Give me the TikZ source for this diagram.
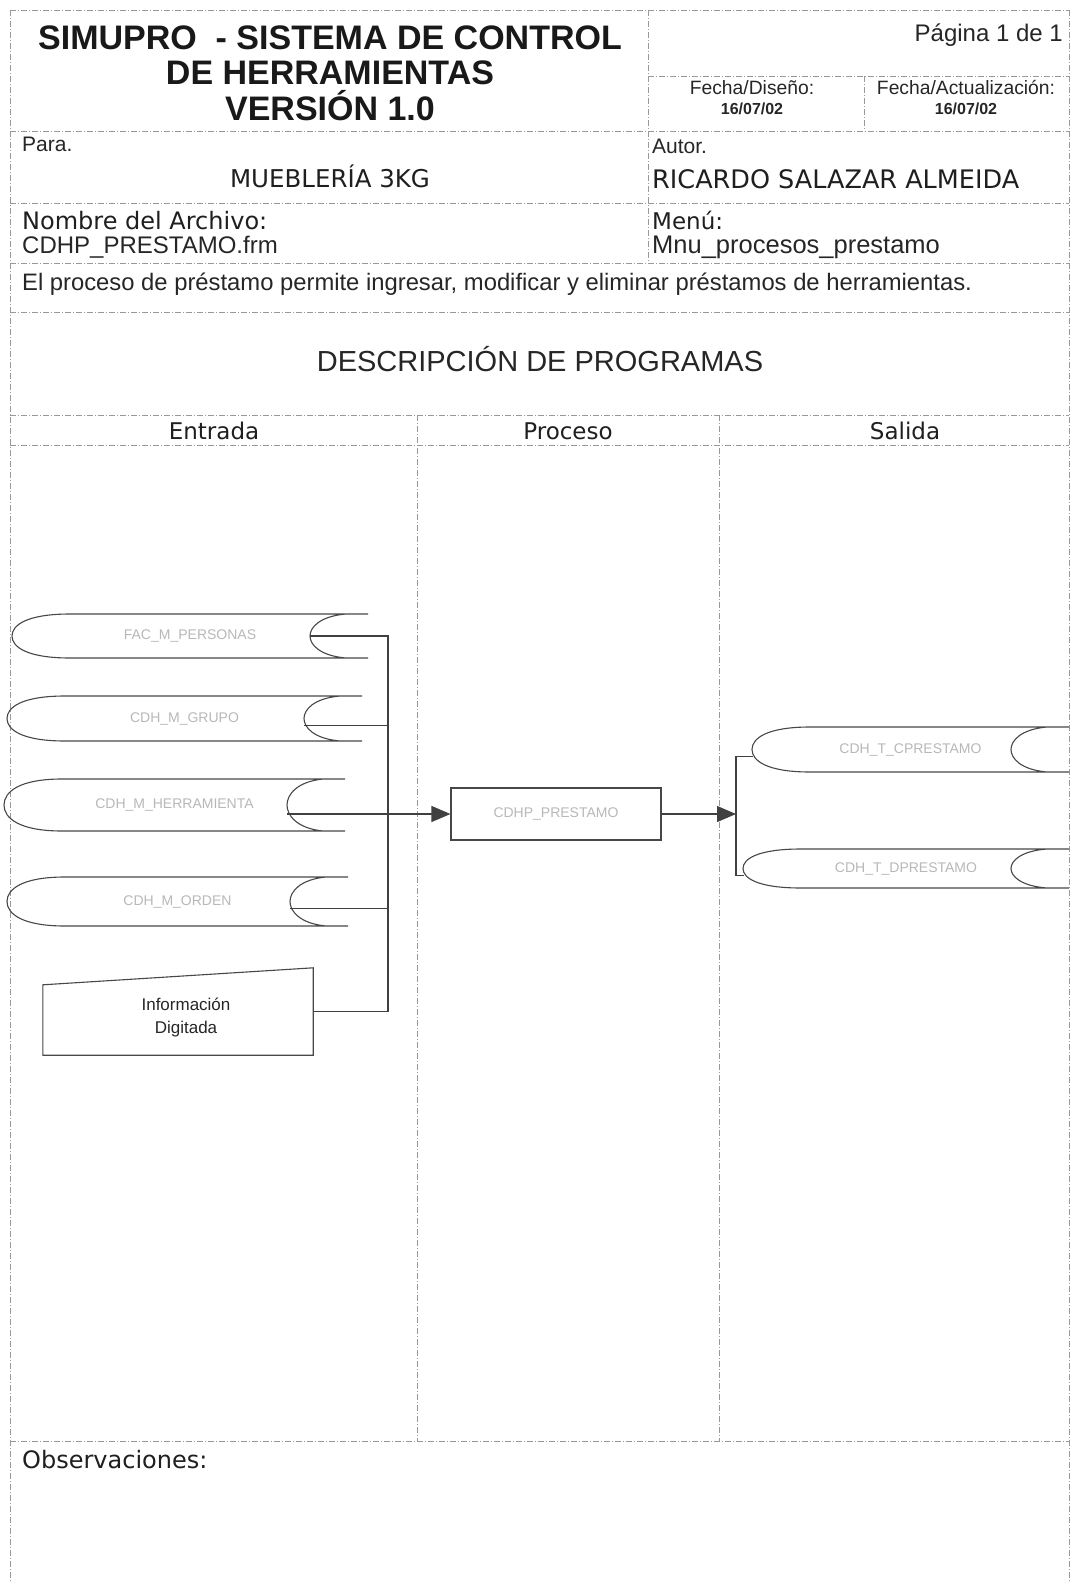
\documentclass[tikz,border=0pt]{standalone}
\usepackage{fontspec}
\setmainfont{Liberation Sans}
\newfontfamily\verd{DejaVu Sans}
\usetikzlibrary{arrows.meta}

% stored-data symbol: name, x of left tip, x of right end, y top, y bottom, label
\newcommand\storebox[6]{%
  \draw[outline] ({#2+58},#4) -- (#3,#4)
    ({#2+58},#5) -- (#3,#5)
    ({#2+58},#4) .. controls ({#2+15},#4) and (#2,{#4+0.25*(#5-#4)}) .. (#2,{(#4+#5)/2})
      .. controls (#2,{#5-0.25*(#5-#4)}) and ({#2+15},#5) .. ({#2+58},#5)
    ({#3-22},#4) .. controls ({#3-48},{#4+0.05*(#5-#4)}) and ({#3-58},{#4+0.3*(#5-#4)}) .. ({#3-58},{(#4+#5)/2})
      .. controls ({#3-58},{#5-0.3*(#5-#4)}) and ({#3-48},{#5-0.05*(#5-#4)}) .. ({#3-22},#5);
  \node[faint] (#1) at ({(#2+#3)/2},{(#4+#5)/2}) {#6};
  \coordinate (#1-in) at ({#3-58},{(#4+#5)/2});
  \coordinate (#1-tip) at (#2,{(#4+#5)/2});
}

\begin{document}
\begin{tikzpicture}[x=1pt,y=-1pt,
  frame/.style={draw=black!40, line width=0.7pt, dash pattern=on 6pt off 2pt on 1pt off 2pt},
  outline/.style={draw=black!72, line width=1.1pt},
  wire/.style={draw=black!75, line width=1.1pt},
  tip/.style={-{Triangle[length=19pt,width=16pt]}},
  faint/.style={text=black!28, inner sep=0, font=\fontsize{14}{14}\selectfont},
  txt/.style={text=black!85, inner sep=0, anchor=base west, font=\fontsize{24}{24}\selectfont},
  vtxt/.style={text=black!88, inner sep=0, anchor=base west, font=\verd\fontsize{24}{24}\selectfont},
  ttl/.style={text=black!90, inner sep=0, anchor=base, font=\fontsize{34}{34}\selectfont\bfseries},
  small/.style={text=black!85, inner sep=0, anchor=base, font=\fontsize{19.3}{19.3}\selectfont},
  date/.style={text=black!85, inner sep=0, anchor=base, font=\fontsize{16}{16}\selectfont\bfseries},
  head/.style={text=black!88, inner sep=0, anchor=base, font=\verd\fontsize{23}{23}\selectfont}
]
\useasboundingbox (0,0) rectangle (1071,1581);
\fill[white] (0,0) rectangle (1071,1581);

% form frame
\draw[frame] (10,10) -- (1069,10);
\draw[frame] (10,10) -- (10,1581);
\draw[frame] (1069,10) -- (1069,1581);
\draw[frame] (648,10) -- (648,263);
\draw[frame] (648,76) -- (1069,76);
\draw[frame] (864,76) -- (864,131);
\foreach \yy in {131,203,263,312,415,445,1441}
  \draw[frame] (10,\yy) -- (1069,\yy);
\draw[frame] (417,415) -- (417,1441);
\draw[frame] (719,415) -- (719,1441);

% header texts
\node[ttl] (title1) at (330,50) {SIMUPRO \ - SISTEMA DE CONTROL};
\node[ttl] (title2) at (330,85) {DE HERRAMIENTAS};
\node[ttl] (title3) at (330,121) {VERSIÓN 1.0};
\node[txt, anchor=base east] (page) at (1063,42) {Página 1 de 1};
\node[small] (fdis) at (752,95) {Fecha/Diseño:};
\node[date] (ddis) at (752,115) {16/07/02};
\node[small] (fact) at (966,95) {Fecha/Actualización:};
\node[date] (dact) at (966,115) {16/07/02};
\node[txt, font=\fontsize{21}{21}\selectfont] (para) at (22,152) {Para.};
\node[head, font=\verd\fontsize{24.5}{24.5}\selectfont] (cliente) at (330,188) {MUEBLERÍA 3KG};
\node[txt, font=\fontsize{21}{21}\selectfont] (autor) at (652,154) {Autor.};
\node[vtxt, font=\verd\fontsize{25.5}{25.5}\selectfont] (autorn) at (652,189) {RICARDO SALAZAR ALMEIDA};
\node[vtxt] (arch) at (22,229) {Nombre del Archivo:};
\node[txt] (archn) at (22,253) {CDHP\_PRESTAMO.frm};
\node[vtxt, font=\verd\fontsize{23}{23}\selectfont] (menu) at (652,229) {Menú:};
\node[txt, font=\fontsize{25.5}{25.5}\selectfont] (menun) at (652,253) {Mnu\_procesos\_prestamo};
\node[txt, font=\fontsize{23.8}{23.8}\selectfont] (desc) at (22,290) {El proceso de préstamo permite ingresar, modificar y eliminar préstamos de herramientas.};
\node[text=black!85, inner sep=0, anchor=base, font=\fontsize{29}{29}\selectfont] (sect) at (540,371) {DESCRIPCIÓN DE PROGRAMAS};
\node[head] (colin) at (214,439) {Entrada};
\node[head] (colpr) at (568,439) {Proceso};
\node[head] (colout) at (905,439) {Salida};
\node[vtxt] (obs) at (22,1468) {Observaciones:};

% input files
\storebox{fac}{12}{368}{614}{658}{FAC\_M\_PERSONAS}
\storebox{grp}{7}{362}{696}{741}{CDH\_M\_GRUPO}
\storebox{her}{4}{345}{779}{831}{CDH\_M\_HERRAMIENTA}
\storebox{ord}{7}{348}{877}{926}{CDH\_M\_ORDEN}

% manual input
\node[inner sep=0, minimum width=270, minimum height=87] (info) at (178,1011.5) {};
\draw[outline] (info.south west) -- ([yshift=-17pt]info.north west)
  -- (info.north east) -- (info.south east) -- cycle;
\node[inner sep=0, align=center, text=black!85, font=\fontsize{17}{23}\selectfont]
  (infotxt) at (186,1017) {Información\\Digitada};

% process
\node[outline, faint, minimum width=210, minimum height=52] (proc) at (556,814) {CDHP\_PRESTAMO};

% output files
\storebox{cpr}{752}{1069}{727}{772}{CDH\_T\_CPRESTAMO}
\storebox{dpr}{743}{1069}{849}{888}{CDH\_T\_DPRESTAMO}

% connectors
\coordinate (bus) at (388,636);
\coordinate (split) at (736,814);
\draw[wire] (fac-in) -- (fac-in -| bus) -- (info.east -| bus) -- (info.east);
\draw[wire] ([yshift=-7pt]grp-in) -- ([yshift=-7pt]grp-in -| bus);
\draw[wire] ([yshift=-7pt]ord-in) -- ([yshift=-7pt]ord-in -| bus);
\draw[wire, tip] (her-in |- proc.west) -- (proc.west);
\draw[wire, tip] (proc.east) -- (split);
\draw[wire] ([shift={(1pt,-7pt)}]cpr-tip) -- ([yshift=-7pt]cpr-tip -| split)
  -- ([yshift=-7pt]dpr-tip -| split) -- ([shift={(1pt,-7pt)}]dpr-tip);
\end{tikzpicture}
\end{document}
